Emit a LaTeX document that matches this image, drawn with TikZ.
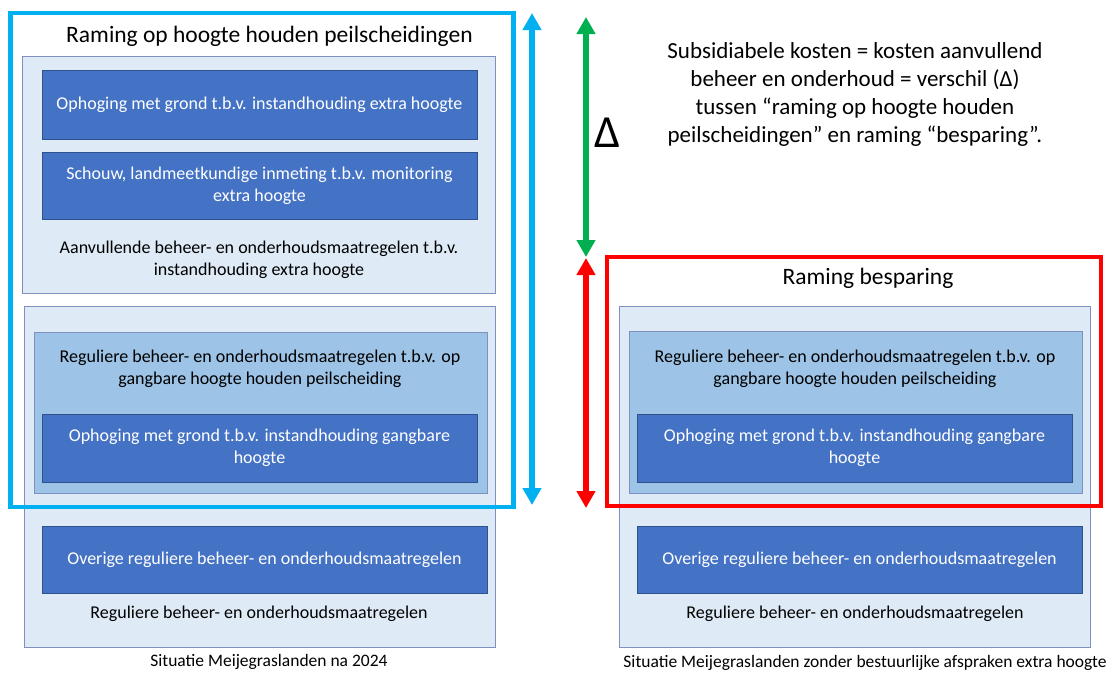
\documentclass[tikz,border=0pt]{standalone}
\usepackage{fontspec}
\setmainfont{Carlito}
\usepackage{tikz}
\usetikzlibrary{arrows.meta}
\usetikzlibrary{positioning}

\definecolor{donkerblauw}{HTML}{4472C4}
\definecolor{randblauw}{HTML}{2F528F}
\definecolor{lichtblauw}{HTML}{DEEBF7}
\definecolor{middenblauw}{HTML}{9DC3E6}
\definecolor{kaderrand}{HTML}{7F8FC0}
\definecolor{cyaan}{HTML}{00B0F0}
\definecolor{groen}{HTML}{00B050}
\definecolor{rood}{HTML}{FF0000}

\tikzset{
  donker/.style={draw=randblauw, fill=donkerblauw, line width=0.8pt, text=white,
    align=center, inner sep=0pt, font=\fontsize{18}{22}\selectfont},
  licht/.style={draw=kaderrand, fill=lichtblauw, line width=1pt, inner sep=0pt},
  midden/.style={draw=kaderrand, fill=middenblauw, line width=1pt, inner sep=0pt},
  tekst/.style={align=center, inner sep=0pt, font=\fontsize{18}{22}\selectfont},
  kop/.style={inner sep=0pt, font=\fontsize{23.5}{26}\selectfont},
  bijschrift/.style={inner sep=0pt, font=\fontsize{17.5}{20}\selectfont},
  kader/.style={line width=4.5pt},
  pijl/.style={line width=5.5pt,
    arrows={Triangle[width=18pt,length=17pt]-Triangle[width=18pt,length=17pt]}},
}

\begin{document}
\begin{tikzpicture}[x=1pt,y=-1pt]
\useasboundingbox (0,0) rectangle (1118,673);

% linker situatie
\node[licht, minimum width=473pt, minimum height=237pt] (aanvKader) at (258.5,174.5) {};
\node[donker, minimum width=435pt, minimum height=69pt] (ophExtra) at (259.5,104.5)
  {Ophoging met grond t.b.v. instandhouding extra hoogte};
\node[donker, minimum width=435pt, minimum height=67pt] (schouw) at (259.5,185.5)
  {Schouw, landmeetkundige inmeting t.b.v. monitoring\\ extra hoogte};
\node[tekst] (aanvLabel) at (259,260)
  {Aanvullende beheer- en onderhoudsmaatregelen t.b.v.\\ instandhouding extra hoogte};

\node[licht, minimum width=471pt, minimum height=341pt] (regKaderL) at (259.5,476.5) {};
\node[midden, minimum width=453pt, minimum height=161pt] (regMiddenL) at (260.5,412.5) {};
\node[tekst] (regMiddenLabelL) at (260,369)
  {Reguliere beheer- en onderhoudsmaatregelen t.b.v. op\\ gangbare hoogte houden peilscheiding};
\node[donker, minimum width=435pt, minimum height=68pt] (ophGangL) at (259.5,448)
  {Ophoging met grond t.b.v. instandhouding gangbare\\ hoogte};
\node[donker, minimum width=445pt, minimum height=67pt] (overigL) at (264.5,559.5)
  {Overige reguliere beheer- en onderhoudsmaatregelen};
\node[tekst] (regLabelL) at (259,614) {Reguliere beheer- en onderhoudsmaatregelen};
\node[bijschrift] (bijschriftL) at (269,662) {Situatie Meijegraslanden na 2024};

\draw[kader, cyaan] (10.5,13) rectangle (513.5,507);
\node[kop] (titelL) at (269.5,36) {Raming op hoogte houden peilscheidingen};

% rechter situatie
\node[licht, minimum width=471pt, minimum height=341pt] (regKaderR) at (854.5,476.5) {};
\node[midden, minimum width=453pt, minimum height=162pt] (regMiddenR) at (855.5,412) {};
\node[tekst] (regMiddenLabelR) at (855,369)
  {Reguliere beheer- en onderhoudsmaatregelen t.b.v. op\\ gangbare hoogte houden peilscheiding};
\node[donker, minimum width=435pt, minimum height=68pt] (ophGangR) at (854.5,448)
  {Ophoging met grond t.b.v. instandhouding gangbare\\ hoogte};
\node[donker, minimum width=445pt, minimum height=67pt] (overigR) at (859.5,559.5)
  {Overige reguliere beheer- en onderhoudsmaatregelen};
\node[tekst] (regLabelR) at (855,614) {Reguliere beheer- en onderhoudsmaatregelen};
\node[bijschrift] (bijschriftR) at (865,663)
  {Situatie Meijegraslanden zonder bestuurlijke afspraken extra hoogte};

\draw[kader, rood] (607,257) rectangle (1101,506);
\node[kop] (titelR) at (868,278) {Raming besparing};

% toelichting
\node[align=center, inner sep=0pt, font=\fontsize{23}{28}\selectfont] (uitleg) at (855,94)
  {Subsidiabele kosten = kosten aanvullend\\ beheer en onderhoud = verschil (Δ)\\
   tussen “raming op hoogte houden\\ peilscheidingen” en raming “besparing”.};
\node[inner sep=0pt, font=\fontsize{46}{48}\selectfont] (delta) at (607,133) {Δ};

% pijlen
\coordinate (blauwBoven) at (532,13);
\coordinate (blauwOnder) at (532,505);
\coordinate (groenBoven) at (586,17);
\coordinate (groenOnder) at (586,257);
\coordinate (roodBoven) at (586,258);
\coordinate (roodOnder) at (586,508);
\draw[pijl, cyaan] (blauwBoven) -- (blauwOnder);
\draw[pijl, groen] (groenBoven) -- (groenOnder);
\draw[pijl, rood] (roodBoven) -- (roodOnder);
\end{tikzpicture}
\end{document}
